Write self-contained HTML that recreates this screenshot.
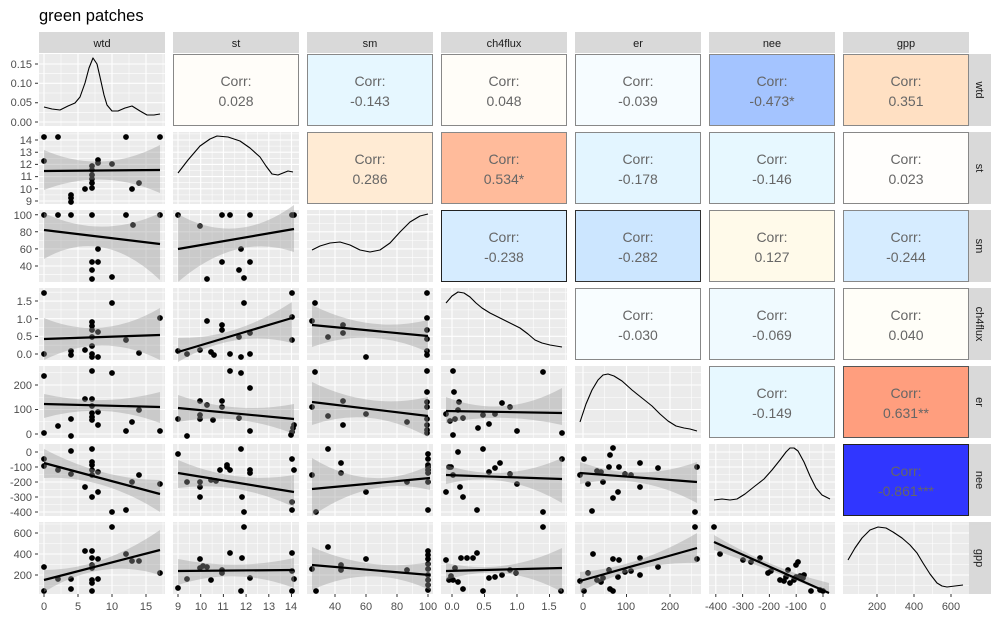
<!DOCTYPE html>
<html><head><meta charset="utf-8"><style>
html,body{margin:0;padding:0;background:#fff;}
svg{display:block;font-family:"Liberation Sans",Arial,sans-serif;}
</style></head><body>
<svg width="1000" height="621" viewBox="0 0 1000 621" xmlns="http://www.w3.org/2000/svg">
<rect width="1000" height="621" fill="#fff"/>
<text x="39" y="21" font-size="16.5" fill="#000">green patches</text>
<g fill="#D9D9D9">
<rect x="39" y="32" width="126" height="21"/><rect x="173" y="32" width="126" height="21"/><rect x="307" y="32" width="126" height="21"/><rect x="441" y="32" width="126" height="21"/><rect x="575" y="32" width="126" height="21"/><rect x="709" y="32" width="126" height="21"/><rect x="843" y="32" width="126" height="21"/>
<rect x="969" y="54" width="22" height="72"/><rect x="969" y="132" width="22" height="72"/><rect x="969" y="210" width="22" height="72"/><rect x="969" y="288" width="22" height="72"/><rect x="969" y="366" width="22" height="72"/><rect x="969" y="444" width="22" height="72"/><rect x="969" y="522" width="22" height="72"/>
</g>
<g font-size="11" fill="#1A1A1A" text-anchor="middle">
<text x="102" y="47">wtd</text><text x="236" y="47">st</text><text x="370" y="47">sm</text><text x="504" y="47">ch4flux</text><text x="638" y="47">er</text><text x="772" y="47">nee</text><text x="906" y="47">gpp</text>
<text transform="translate(976,90) rotate(90)">wtd</text>
<text transform="translate(976,168) rotate(90)">st</text>
<text transform="translate(976,246) rotate(90)">sm</text>
<text transform="translate(976,324) rotate(90)">ch4flux</text>
<text transform="translate(976,402) rotate(90)">er</text>
<text transform="translate(976,480) rotate(90)">nee</text>
<text transform="translate(976,558) rotate(90)">gpp</text>
</g>
<g fill="#EBEBEB">
<rect x="39" y="54" width="126" height="72"/>
<rect x="39" y="132" width="126" height="72"/><rect x="173" y="132" width="126" height="72"/>
<rect x="39" y="210" width="126" height="72"/><rect x="173" y="210" width="126" height="72"/><rect x="307" y="210" width="126" height="72"/>
<rect x="39" y="288" width="126" height="72"/><rect x="173" y="288" width="126" height="72"/><rect x="307" y="288" width="126" height="72"/><rect x="441" y="288" width="126" height="72"/>
<rect x="39" y="366" width="126" height="72"/><rect x="173" y="366" width="126" height="72"/><rect x="307" y="366" width="126" height="72"/><rect x="441" y="366" width="126" height="72"/><rect x="575" y="366" width="126" height="72"/>
<rect x="39" y="444" width="126" height="72"/><rect x="173" y="444" width="126" height="72"/><rect x="307" y="444" width="126" height="72"/><rect x="441" y="444" width="126" height="72"/><rect x="575" y="444" width="126" height="72"/><rect x="709" y="444" width="126" height="72"/>
<rect x="39" y="522" width="126" height="72"/><rect x="173" y="522" width="126" height="72"/><rect x="307" y="522" width="126" height="72"/><rect x="441" y="522" width="126" height="72"/><rect x="575" y="522" width="126" height="72"/><rect x="709" y="522" width="126" height="72"/><rect x="843" y="522" width="126" height="72"/>
</g>
<path fill="none" stroke="#fff" stroke-width="0.55" d="M39 112.3H165M39 93H165M39 73.7H165
M39 133.9H299M39 146.1H299M39 158.3H299M39 170.5H299M39 182.7H299M39 194.9H299
M39 223.25H433M39 240.35H433M39 257.45H433M39 274.55H433
M39 345.2H567M39 327.5H567M39 309.9H567M39 292.2H567
M39 421.75H701M39 397.25H701M39 372.75H701
M39 459.5H835M39 474.5H835M39 489.5H835M39 504.5H835
M39 585.5H969M39 564.5H969M39 543.5H969M39 524H969
M61 54V594M95 54V594M129 54V594M163 54V594
M189.4 132V594M212.1 132V594M234.8 132V594M257.5 132V594M280.2 132V594
M319.5 210V594M350.5 210V594M381.5 210V594M412.5 210V594
M468.25 288V594M500.75 288V594M533.25 288V594M565.75 288V594
M604.75 366V594M648.25 366V594M691.75 366V594
M729.2 444V594M756 444V594M782.8 444V594M809.6 444V594
M858.5 522V594M895.5 522V594M932.5 522V594"/>
<path fill="none" stroke="#fff" stroke-width="1.1" d="M39 122H165M39 102.7H165M39 83.3H165M39 64H165
M39 140H299M39 152.2H299M39 164.4H299M39 176.6H299M39 188.8H299M39 201H299
M39 214.7H433M39 231.8H433M39 248.9H433M39 266H433
M39 354H567M39 336.35H567M39 318.7H567M39 301.05H567
M39 434H701M39 409.5H701M39 385H701
M39 452H835M39 467H835M39 482H835M39 497H835M39 512H835
M39 575H969M39 554H969M39 533H969
M44 54V594M78 54V594M112 54V594M146 54V594
M178 132V594M200.7 132V594M223.4 132V594M246.1 132V594M268.8 132V594M291.5 132V594
M335 210V594M366 210V594M397 210V594M428 210V594
M452 288V594M484.5 288V594M517 288V594M549.5 288V594
M583 366V594M626.5 366V594M670 366V594
M715.8 444V594M742.6 444V594M769.4 444V594M796.2 444V594M823 444V594
M877 522V594M914 522V594M951 522V594"/>
<!-- white gaps to clean grid between panels -->
<g fill="#fff">
<rect x="0" y="126" width="969" height="6"/><rect x="0" y="204" width="969" height="6"/><rect x="0" y="282" width="969" height="6"/><rect x="0" y="360" width="969" height="6"/><rect x="0" y="438" width="969" height="6"/><rect x="0" y="516" width="969" height="6"/>
<rect x="165" y="54" width="8" height="540"/><rect x="299" y="132" width="8" height="462"/><rect x="433" y="210" width="8" height="384"/><rect x="567" y="288" width="8" height="306"/><rect x="701" y="366" width="8" height="228"/><rect x="835" y="444" width="8" height="150"/>
</g>
<g fill="none" stroke="#000" stroke-width="1.1" stroke-linejoin="round">
<polyline points="44,107 52,109 60,110 68,106 75,103 80,97 85,83 89,68 93,58 97,64 100,77 104,95 107,105 112,111 118,111 125,108 132,106 140,111 147,115 154,115 160,114"/>
<polyline points="178,173 188,160 200,146 210,139 217,136 228,137 240,141 250,148 260,157 266,166 272,174 278,175 283,173 288,171 293,172"/>
<polyline points="312,250 320,246 330,243 340,242 350,245 360,250 370,252 380,250 390,243 400,232 410,222 420,216 428,214"/>
<polyline points="446,303 452,296 458,292 464,293 470,297 476,303 482,308 490,313 500,318 510,323 520,328 528,334 535,340 542,343 550,345 556,346 562,347"/>
<polyline points="580,422 586,404 592,390 598,380 603,375 608,374 614,376 622,381 632,390 642,398 652,406 660,414 668,421 676,426 684,428 690,429 697,431"/>
<polyline points="714,500 722,499 730,500 737,499 745,494 755,486 764,479 772,470 780,460 786,452 790,448 794,448 798,451 804,462 810,476 816,488 822,495 830,499"/>
<polyline points="848,560 855,548 862,538 870,530 878,527 886,528 893,532 902,538 910,545 917,553 923,563 930,574 937,583 942,586 947,587 955,586 963,585"/>
</g>
<path fill="none" stroke="#000" stroke-width="5.8" stroke-linecap="round" d="
M44 137h0M58 137h0M126 137h0M160 137h0M44 161h0M92 166h0M92 170h0M92 175h0M92 179h0M92 183h0M92 188h0M98 160h0M98 163h0M112 164h0M85 189h0M132 189h0M139 183h0M71 195h0M71 198h0M71 202h0
M44 215h0M58 215h0M71 215h0M92 215h0M126 215h0M160 215h0M133 225h0M98 249h0M92 262h0M98 262h0M92 270h0M92 279h0M112 277h0
M178 215h0M222 215h0M230 215h0M250 215h0M292 215h0M294 215h0M200 226h0M241 249h0M222 262h0M250 262h0M239 270h0M244 278h0M207 279h0
M44 293h0M44 354h0M71 351h0M71 355h0M85 350h0M92 322h0M92 326h0M92 330h0M92 337h0M92 346h0M92 354h0M92 357h0M98 332h0M98 357h0M112 303h0M126 340h0M139 353h0M160 318h0
M178 351h0M187 354h0M200 350h0M207 321h0M211 352h0M214 355h0M222 325h0M222 330h0M230 354h0M241 357h0M244 303h0M239 337h0M250 333h0M250 354h0M292 293h0M292 317h0M292 340h0
M312 321h0M315 303h0M328 337h0M343 325h0M343 333h0M366 357h0M427 293h0M427 318h0M427 330h0M427 339h0M427 351h0M427 355h0
M44 376h0M44 433h0M58 426h0M71 436h0M71 419h0M85 399h0M92 371h0M92 399h0M92 406h0M92 413h0M92 417h0M92 420h0M98 412h0M98 425h0M112 373h0M126 431h0M132 422h0M139 410h0M160 431h0
M178 419h0M187 436h0M200 401h0M200 419h0M200 415h0M207 405h0M213 420h0M222 401h0M222 407h0M230 371h0M241 373h0M250 388h0M239 418h0M250 431h0M292 432h0M293 428h0M294 425h0M291 435h0
M315 372h0M312 407h0M328 416h0M343 401h0M343 425h0M366 414h0M407 422h0M427 371h0M427 392h0M427 402h0M427 407h0M427 419h0M427 425h0M427 430h0M427 433h0
M453 371h0M454 392h0M459 402h0M446 414h0M450 421h0M458 410h0M455 419h0M463 418h0M478 428h0M483 415h0M489 424h0M495 414h0M502 403h0M510 407h0M517 431h0M543 372h0M562 433h0M453 435h0
M44 459h0M44 466h0M58 470h0M71 451h0M71 474h0M85 487h0M92 449h0M92 462h0M92 465h0M92 470h0M92 475h0M92 497h0M98 472h0M98 492h0M112 512h0M126 510h0M132 482h0M139 475h0M160 484h0
M178 454h0M187 482h0M200 482h0M200 487h0M200 497h0M211 480h0M216 481h0M220 470h0M227 465h0M227 467h0M230 470h0M241 449h0M244 512h0M242 497h0M250 470h0M250 473h0M292 459h0M292 502h0M292 510h0M294 470h0
M312 475h0M316 512h0M328 449h0M341 463h0M341 473h0M366 492h0M407 482h0M428 454h0M428 459h0M428 465h0M428 467h0M428 470h0M428 473h0M428 482h0M428 510h0
M446 492h0M449 467h0M451 467h0M453 475h0M458 452h0M460 487h0M463 497h0M477 510h0M483 449h0M489 472h0M495 468h0M500 463h0M510 474h0M517 484h0M543 512h0M562 459h0
M580 475h0M584 459h0M588 484h0M592 511h0M597 471h0M601 472h0M603 482h0M609 467h0M610 455h0M613 448h0M613 498h0M619 467h0M618 492h0M625 474h0M631 475h0M640 463h0M640 487h0M658 468h0M695 512h0M697 467h0
M44 567h0M44 591h0M58 579h0M71 579h0M71 589h0M85 551h0M92 551h0M92 558h0M92 565h0M92 568h0M92 580h0M92 583h0M92 591h0M98 559h0M98 579h0M112 527h0M126 554h0M132 561h0M139 561h0M160 573h0
M178 588h0M187 579h0M200 559h0M200 568h0M203 566h0M207 567h0M211 580h0M222 573h0M222 570h0M230 553h0M241 591h0M244 527h0M242 558h0M250 578h0M292 553h0M292 571h0M292 591h0M294 579h0
M312 569h0M316 591h0M328 547h0M341 565h0M341 570h0M366 559h0M407 570h0M428 551h0M428 555h0M428 559h0M428 564h0M428 569h0M428 575h0M428 580h0M428 585h0M428 590h0
M446 560h0M449 580h0M451 576h0M453 580h0M455 568h0M458 582h0M461 558h0M463 589h0M467 558h0M473 558h0M477 553h0M483 591h0M489 578h0M495 577h0M502 575h0M510 570h0M516 573h0M543 527h0M561 591h0
M580 581h0M584 591h0M588 573h0M593 554h0M597 580h0M601 582h0M603 578h0M609 570h0M610 589h0M613 559h0M613 591h0M619 560h0M618 577h0M625 572h0M631 571h0M640 558h0M640 575h0M658 567h0M695 527h0M697 559h0
M714 527h0M720 554h0M743 560h0M751 562h0M760 558h0M768 573h0M771 571h0M784 581h0M786 577h0M788 570h0M794 580h0M798 562h0M796 565h0M790 583h0M800 576h0M804 575h0M811 591h0M820 590h0M823 591h0M796 577h0M803 578h0M780 580h0"/>
<g fill="rgba(153,153,153,0.4)">
<path d="M44 150Q102 175.5 160 145L160 193Q102 167.5 44 190Z"/>
<path d="M44 213Q102 240.3 160 213L160 280Q102 225.2 44 259Z"/>
<path d="M178 214Q236 247.3 294 205L294 252Q236 232.2 178 282Z"/>
<path d="M44 318Q102 342.1 160 308L160 360Q102 330.9 44 360Z"/>
<path d="M178 338Q235 339.2 292 302L292 343Q235 328.3 178 362Z"/>
<path d="M312 305Q370 334.1 428 320L428 352Q370 325.9 312 347Z"/>
<path d="M44 394Q102 407.2 160 392L160 423Q102 401.3 44 418Z"/>
<path d="M178 395Q236 415.3 294 404L294 434Q236 411.2 178 422Z"/>
<path d="M312 382Q370 410.5 428 397L428 437Q370 405 312 425Z"/>
<path d="M446 397Q504 419.8 562 388L562 425Q504 411.7 446 423Z"/>
<path d="M44 449Q102 479.5 160 480L160 512Q102 475 44 478Z"/>
<path d="M178 460Q236 484.9 294 475L294 507Q236 480.1 178 488Z"/>
<path d="M312 458Q371 494.3 430 465L430 490Q371 475.2 312 516Z"/>
<path d="M446 465Q504 483.9 562 458L562 503Q504 469.1 446 484Z"/>
<path d="M580 462Q638.5 483 697 462L697 503Q638.5 471.5 580 484Z"/>
<path d="M44 570Q102 570 160 530L160 575Q102 556.5 44 592Z"/>
<path d="M178 559Q236 570.8 294 558L294 588Q236 566.2 178 585Z"/>
<path d="M312 547Q371 572.9 430 562L430 590Q371 562.6 312 590Z"/>
<path d="M446 563Q504 575.9 562 548L562 592Q504 560.6 446 580Z"/>
<path d="M580 572Q638.5 567.5 697 533L697 563Q638.5 560.5 580 592Z"/>
<path d="M714 535Q771.5 569.2 829 583L829 594Q771.5 569.8 714 550Z"/>
</g>
<path fill="none" stroke="#000" stroke-width="2.2" d="M44 171L160 170M44 230L160 244M178 249L294 229M44 339L160 335M178 352L292 318M312 325L428 336M44 404L160 407M178 408L294 419M312 402L428 416M446 411L562 413M44 463L160 494M178 473L294 492M312 489L430 478M446 475L562 479M580 473L697 482M44 580L160 550M178 571L294 570M312 565L430 575M446 571L562 568M580 581L697 548M714 542L829 593"/>
<g stroke-width="1">
<rect x="173.5" y="54.5" width="125" height="71" fill="#FFFDF9" stroke="#888"/>
<rect x="307.5" y="54.5" width="125" height="71" fill="#E6F7FF" stroke="#888"/>
<rect x="441.5" y="54.5" width="125" height="71" fill="#FFFDF8" stroke="#888"/>
<rect x="575.5" y="54.5" width="125" height="71" fill="#F6FCFF" stroke="#888"/>
<rect x="709.5" y="54.5" width="125" height="71" fill="#A4C4FF" stroke="#888"/>
<rect x="843.5" y="54.5" width="125" height="71" fill="#FFE0C3" stroke="#888"/>
<rect x="307.5" y="132.5" width="125" height="71" fill="#FFEBD4" stroke="#888"/>
<rect x="441.5" y="132.5" width="125" height="71" fill="#FFBB9B" stroke="#888"/>
<rect x="575.5" y="132.5" width="125" height="71" fill="#E3F5FF" stroke="#888"/>
<rect x="709.5" y="132.5" width="125" height="71" fill="#E7F8FF" stroke="#888"/>
<rect x="843.5" y="132.5" width="125" height="71" fill="#FFFEFC" stroke="#888"/>
<rect x="441.5" y="210.5" width="125" height="71" fill="#D6ECFF" stroke="#222"/>
<rect x="575.5" y="210.5" width="125" height="71" fill="#CCE6FF" stroke="#333"/>
<rect x="709.5" y="210.5" width="125" height="71" fill="#FFFAEA" stroke="#888"/>
<rect x="843.5" y="210.5" width="125" height="71" fill="#D6ECFF" stroke="#888"/>
<rect x="575.5" y="288.5" width="125" height="71" fill="#F8FDFF" stroke="#888"/>
<rect x="709.5" y="288.5" width="125" height="71" fill="#F0FAFF" stroke="#888"/>
<rect x="843.5" y="288.5" width="125" height="71" fill="#FFFEF8" stroke="#888"/>
<rect x="709.5" y="366.5" width="125" height="71" fill="#E7F8FF" stroke="#888"/>
<rect x="843.5" y="366.5" width="125" height="71" fill="#FF9E7E" stroke="#555"/>
<rect x="843.5" y="444.5" width="125" height="71" fill="#3036FF" stroke="#222"/>
</g>
<g font-size="14" fill="#666" text-anchor="middle">
<text x="236" y="86">Corr:</text><text x="236" y="106">0.028</text>
<text x="370" y="86">Corr:</text><text x="370" y="106">-0.143</text>
<text x="504" y="86">Corr:</text><text x="504" y="106">0.048</text>
<text x="638" y="86">Corr:</text><text x="638" y="106">-0.039</text>
<text x="772" y="86">Corr:</text><text x="772" y="106">-0.473*</text>
<text x="906" y="86">Corr:</text><text x="906" y="106">0.351</text>
<text x="370" y="164">Corr:</text><text x="370" y="184">0.286</text>
<text x="504" y="164">Corr:</text><text x="504" y="184">0.534*</text>
<text x="638" y="164">Corr:</text><text x="638" y="184">-0.178</text>
<text x="772" y="164">Corr:</text><text x="772" y="184">-0.146</text>
<text x="906" y="164">Corr:</text><text x="906" y="184">0.023</text>
<text x="504" y="242">Corr:</text><text x="504" y="262">-0.238</text>
<text x="638" y="242">Corr:</text><text x="638" y="262">-0.282</text>
<text x="772" y="242">Corr:</text><text x="772" y="262">0.127</text>
<text x="906" y="242">Corr:</text><text x="906" y="262">-0.244</text>
<text x="638" y="320">Corr:</text><text x="638" y="340">-0.030</text>
<text x="772" y="320">Corr:</text><text x="772" y="340">-0.069</text>
<text x="906" y="320">Corr:</text><text x="906" y="340">0.040</text>
<text x="772" y="398">Corr:</text><text x="772" y="418">-0.149</text>
<text x="906" y="398">Corr:</text><text x="906" y="418">0.631**</text>
<text x="906" y="476">Corr:</text><text x="906" y="496">-0.861***</text>
</g>
<path fill="none" stroke="#333" stroke-width="1" d="M35 122h3M35 102.7h3M35 83.3h3M35 64h3M35 140h3M35 152.2h3M35 164.4h3M35 176.6h3M35 188.8h3M35 201h3M35 214.7h3M35 231.8h3M35 248.9h3M35 266h3M35 354h3M35 336.35h3M35 318.7h3M35 301.05h3M35 434h3M35 409.5h3M35 385h3M35 452h3M35 467h3M35 482h3M35 497h3M35 512h3M35 575h3M35 554h3M35 533h3
M44 594v3M78 594v3M112 594v3M146 594v3M178 594v3M200.7 594v3M223.4 594v3M246.1 594v3M268.8 594v3M291.5 594v3M335 594v3M366 594v3M397 594v3M428 594v3M452 594v3M484.5 594v3M517 594v3M549.5 594v3M583 594v3M626.5 594v3M670 594v3M715.8 594v3M742.6 594v3M769.4 594v3M796.2 594v3M823 594v3M877 594v3M914 594v3M951 594v3"/>
<g font-size="11" fill="#4D4D4D" text-anchor="end">
<text x="32" y="68">0.15</text><text x="32" y="87">0.10</text><text x="32" y="106">0.05</text><text x="32" y="126">0.00</text>
<text x="32" y="144">14</text><text x="32" y="156">13</text><text x="32" y="168">12</text><text x="32" y="180">11</text><text x="32" y="193">10</text><text x="32" y="205">9</text>
<text x="32" y="219">100</text><text x="32" y="236">80</text><text x="32" y="253">60</text><text x="32" y="270">40</text>
<text x="32" y="305">1.5</text><text x="32" y="323">1.0</text><text x="32" y="340">0.5</text><text x="32" y="358">0.0</text>
<text x="32" y="389">200</text><text x="32" y="413">100</text><text x="32" y="438">0</text>
<text x="32" y="456">0</text><text x="32" y="471">-100</text><text x="32" y="486">-200</text><text x="32" y="501">-300</text><text x="32" y="516">-400</text>
<text x="32" y="537">600</text><text x="32" y="558">400</text><text x="32" y="579">200</text>
</g>
<g font-size="11" fill="#4D4D4D" text-anchor="middle">
<text x="44" y="610">0</text><text x="78" y="610">5</text><text x="112" y="610">10</text><text x="146" y="610">15</text>
<text x="178" y="610">9</text><text x="201" y="610">10</text><text x="223" y="610">11</text><text x="246" y="610">12</text><text x="269" y="610">13</text><text x="291" y="610">14</text>
<text x="335" y="610">40</text><text x="366" y="610">60</text><text x="397" y="610">80</text><text x="428" y="610">100</text>
<text x="452" y="610">0.0</text><text x="484" y="610">0.5</text><text x="517" y="610">1.0</text><text x="549" y="610">1.5</text>
<text x="583" y="610">0</text><text x="626" y="610">100</text><text x="670" y="610">200</text>
<text x="716" y="610">-400</text><text x="743" y="610">-300</text><text x="769" y="610">-200</text><text x="796" y="610">-100</text><text x="823" y="610">0</text>
<text x="877" y="610">200</text><text x="914" y="610">400</text><text x="951" y="610">600</text>
</g>
</svg>
</body></html>
